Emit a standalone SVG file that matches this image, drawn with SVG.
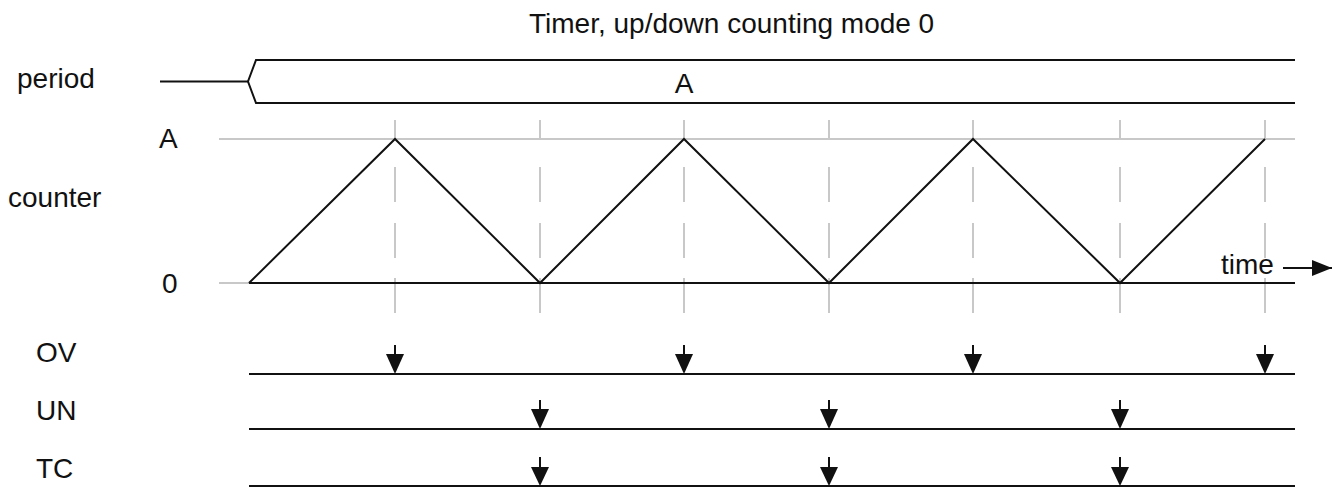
<svg xmlns="http://www.w3.org/2000/svg" width="1335" height="489" viewBox="0 0 1335 489">
<defs>
<style>
text{font-family:"Liberation Sans",Arial,sans-serif;font-size:28px;fill:#111}
.ln{stroke:#111;stroke-width:2;fill:none}
.gr{stroke:#c8c8c8;stroke-width:2;fill:none}
.ah{fill:#111;stroke:none}
</style>
<marker id="arr" viewBox="0 0 20 16" refX="20" refY="8" markerWidth="20" markerHeight="16" markerUnits="userSpaceOnUse" orient="auto">
<path d="M0,0 L20,8 L0,16 Z" fill="#111"/>
</marker>
</defs>
<rect width="1335" height="489" fill="#fff"/>
<text id="title" x="529" y="33" font-size="28.8">Timer, up/down counting mode 0</text>

<g id="labels">
<text x="17" y="88">period</text>
<text x="8" y="207">counter</text>
<text x="159" y="148">A</text>
<text x="162" y="293">0</text>
<text x="36" y="362">OV</text>
<text x="36" y="420">UN</text>
<text x="36" y="478">TC</text>
</g>

<g id="period-bus">
<line class="ln" x1="160" y1="81.5" x2="248" y2="81.5"/>
<path class="ln" d="M1295,60 L256,60 L248,81.5 L256,103 L1295,103"/>
<text x="684" y="93" text-anchor="middle">A</text>
</g>

<g id="grid">
<line class="gr" x1="219" y1="139" x2="1295" y2="139"/>
<line class="gr" x1="219" y1="283" x2="249" y2="283"/>
<path class="gr" d="M395,120V139M395,167V202M395,223V258M395,278V313 M540,120V139M540,167V202M540,223V258M540,278V313 M684,120V139M684,167V202M684,223V258M684,278V313 M829,120V139M829,167V202M829,223V258M829,278V313 M973,120V139M973,167V202M973,223V258M973,278V313 M1120,120V139M1120,167V202M1120,223V258M1120,278V313 M1265,120V139M1265,167V202M1265,223V258M1265,278V313"/>
</g>

<g id="counter">
<line class="ln" x1="249" y1="283" x2="1295" y2="283"/>
<polyline class="ln" points="249,283 395,139 540,283 684,139 829,283 973,139 1120,283 1265,139"/>
<text x="1221" y="274" font-size="27">time</text>
<line class="ln" x1="1283" y1="268" x2="1332" y2="268" marker-end="url(#arr)"/>
</g>

<g id="OV">
<line class="ln" x1="249" y1="374" x2="1295" y2="374"/>
</g>
<g id="UN">
<line class="ln" x1="249" y1="429" x2="1295" y2="429"/>
</g>
<g id="TC">
<line class="ln" x1="249" y1="486" x2="1295" y2="486"/>
</g>

<g id="connectors">
<g class="ln">
<path d="M395,345V360M684,345V360M973,345V360M1265,345V360"/>
<path d="M540,400V415M829,400V415M1120,400V415"/>
<path d="M540,457V472M829,457V472M1120,457V472"/>
</g>
<g class="ah">
<path d="M386,354H404L395,374Z"/>
<path d="M675,354H693L684,374Z"/>
<path d="M964,354H982L973,374Z"/>
<path d="M1256,354H1274L1265,374Z"/>
<path d="M531,409H549L540,429Z"/>
<path d="M820,409H838L829,429Z"/>
<path d="M1111,409H1129L1120,429Z"/>
<path d="M531,467H549L540,486Z"/>
<path d="M820,467H838L829,486Z"/>
<path d="M1111,467H1129L1120,486Z"/>
</g>
</g>
</svg>
